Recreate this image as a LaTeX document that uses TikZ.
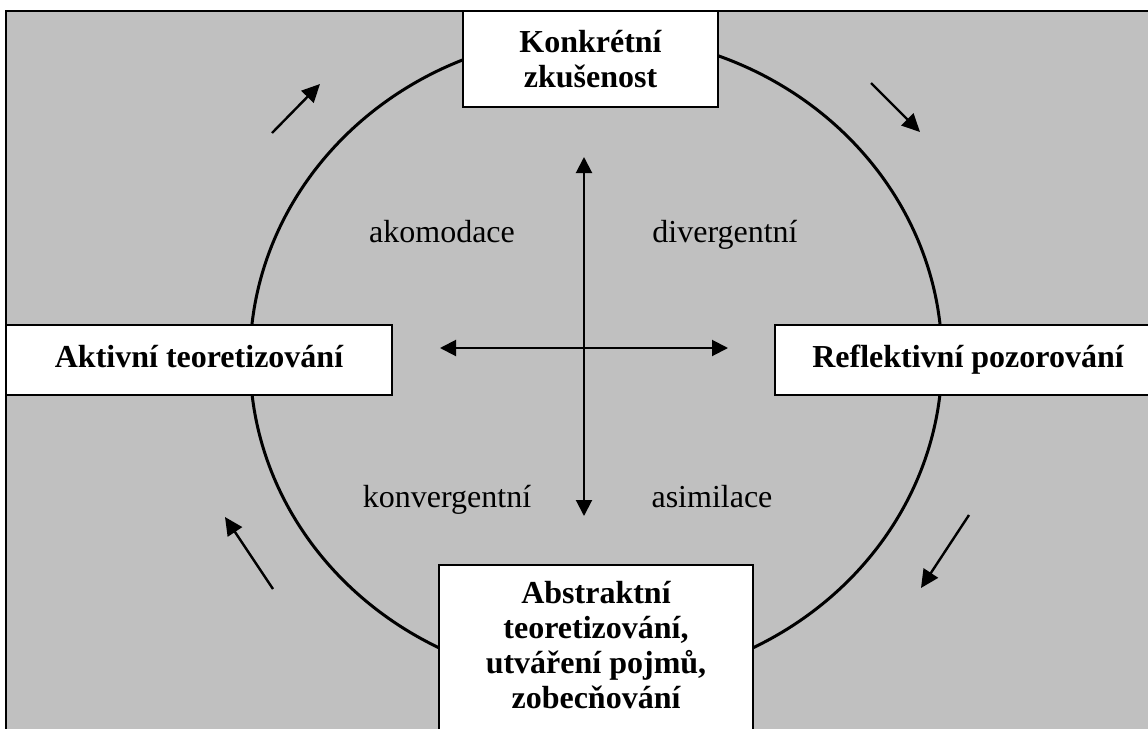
\documentclass[tikz,border=0pt]{standalone}
\usepackage{fontspec}
\setmainfont{Liberation Serif}
\usetikzlibrary{arrows.meta}
\definecolor{bg}{RGB}{192,192,192}
\begin{document}
\begin{tikzpicture}[x=0.5pt,y=-0.5pt,
  box/.style={draw=black, line width=1pt, fill=white, inner sep=0pt,
    font=\fontsize{16}{17.5}\selectfont\bfseries, align=center},
  boxtext/.style={inner sep=0pt, font=\fontsize{16}{17.5}\selectfont\bfseries, align=center},
  lbl/.style={font=\fontsize{16}{19}\selectfont, anchor=base},
  cyc/.style={line width=1.2pt, -{Triangle[length=9pt,width=8.5pt]}},
  cross/.style={line width=1pt, {Triangle[length=8pt,width=8pt]}-{Triangle[length=8pt,width=8pt]}}]
\useasboundingbox (0,0) rectangle (1148,729);
\clip (0,0) rectangle (1148,729);
\fill[white] (0,0) rectangle (1148,729);
\draw[line width=1pt, fill=bg] (6,11) rectangle (1170,745);
% cycle ellipse
\draw[line width=1.5pt] (596,359) ellipse [x radius=173pt, y radius=162pt];
% boxes
\node[box, minimum width=127.5pt, minimum height=48pt] (konk) at (590.5,59) {Konkrétní\\zkušenost};
\node[box, minimum width=193pt, minimum height=35pt, text depth=0.35em] (akt) at (199,360) {Aktivní teoretizování};
\node[box, minimum width=193pt, minimum height=35pt, text depth=0.35em] (refl) at (968,360) {Reflektivní pozorování};
\node[box, minimum width=157pt, minimum height=100pt, anchor=north] (abs) at (596,564) {};
\node[boxtext] (abstext) at (596,645) {Abstraktní\\teoretizování,\\utváření pojmů,\\zobecňování};
% central cross
\coordinate (vt) at (584,157);
\coordinate (vb) at (584,516);
\coordinate (hl) at (440,348);
\coordinate (hr) at (728,348);
\draw[cross] (vb) -- (vt);
\draw[cross] (hl) -- (hr);
% quadrant labels
\node[lbl] (akom) at (442,242) {akomodace};
\node[lbl] (div) at (725,242) {divergentní};
\node[lbl] (konv) at (447,507) {konvergentní};
\node[lbl] (asim) at (712,507) {asimilace};
% cycle arrows
\coordinate (tla) at (272,133);
\coordinate (tlb) at (320,84);
\coordinate (tra) at (871,83);
\coordinate (trb) at (920,132);
\coordinate (bra) at (969,515);
\coordinate (brb) at (921,588);
\coordinate (bla) at (273,589);
\coordinate (blb) at (225,517);
\draw[cyc] (tla) -- (tlb);
\draw[cyc] (tra) -- (trb);
\draw[cyc] (bra) -- (brb);
\draw[cyc] (bla) -- (blb);
\end{tikzpicture}
\end{document}
